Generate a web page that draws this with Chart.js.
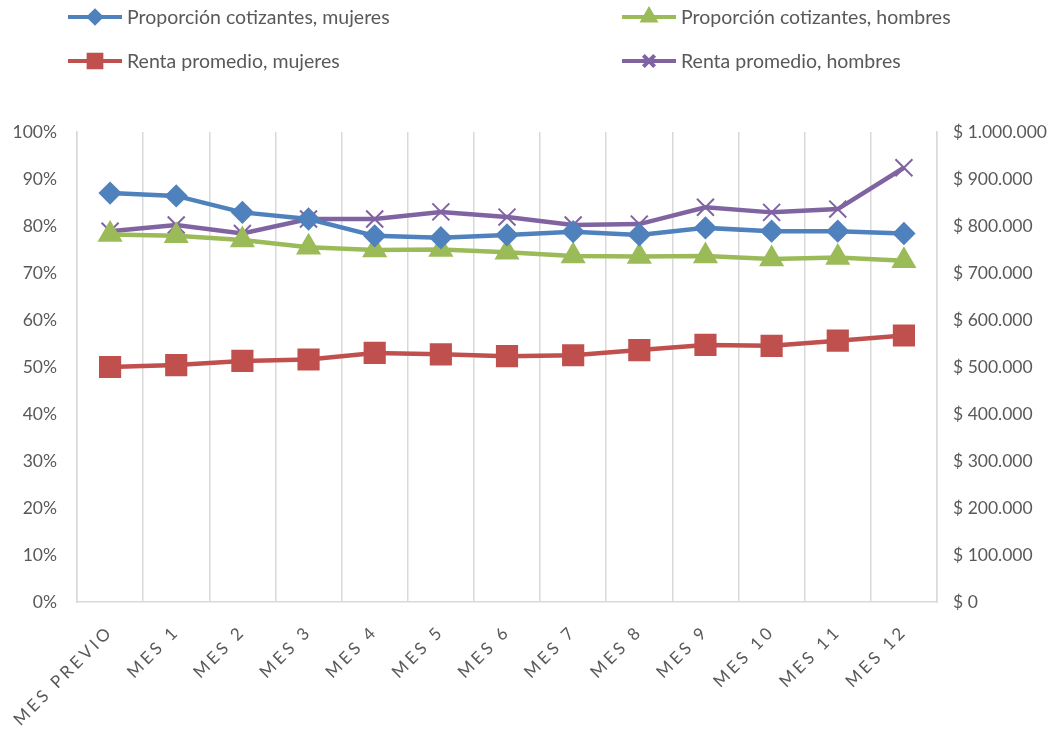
<!DOCTYPE html>
<html>
<head>
<meta charset="utf-8">
<script src="https://cdn.jsdelivr.net/npm/chart.js@4.4.1/dist/chart.umd.min.js"></script>
<style>
  html, body { margin: 0; padding: 0; background: #fff; }
  #wrap { width: 1062px; height: 736px; }
</style>
</head>
<body>
<div id="wrap"><canvas id="grafico" width="1062" height="736"></canvas></div>
<script>
// Datos
const meses = ['MES PREVIO', 'MES 1', 'MES 2', 'MES 3', 'MES 4', 'MES 5', 'MES 6',
  'MES 7', 'MES 8', 'MES 9', 'MES 10', 'MES 11', 'MES 12'];
const cotizMujeres = [87.0, 86.4, 82.9, 81.5, 77.9, 77.5, 78.1, 78.8, 78.1, 79.6, 78.9, 78.9, 78.4];
const cotizHombres = [78.2, 77.9, 77.0, 75.5, 74.9, 75.0, 74.4, 73.6, 73.5, 73.6, 73.0, 73.3, 72.6];
const rentaMujeres = [500000, 504000, 513000, 516000, 530000, 527000, 523000, 525000, 536000, 547000, 545000, 556000, 567000];
const rentaHombres = [789000, 802000, 784000, 815000, 815000, 830000, 819000, 802000, 804000, 840000, 829000, 836000, 924000];

const gris = '#595959';
const lineaGrid = '#D9D9D9';
const fuente = "Lato, 'Open Sans', sans-serif";

// Etiquetas del eje X giradas 45 grados y con letras espaciadas
const etiquetasX = {
  id: 'etiquetasX',
  afterDraw(chart) {
    const ctx = chart.ctx;
    const escala = chart.scales.x;
    const esp = 3.3;
    ctx.save();
    ctx.font = '17px ' + fuente;
    ctx.fillStyle = gris;
    ctx.textBaseline = 'middle';
    chart.data.labels.forEach((txt, i) => {
      const px = escala.getPixelForTick(i);
      const chars = [...txt];
      const anchos = chars.map(c => ctx.measureText(c).width);
      const total = anchos.reduce((a, b) => a + b, 0) + esp * (chars.length - 1);
      ctx.save();
      ctx.translate(px - 2, escala.top + 29);
      ctx.rotate(-Math.PI / 4);
      let x = -total;
      chars.forEach((c, k) => {
        ctx.fillText(c, x, 0);
        x += anchos[k] + esp;
      });
      ctx.restore();
    });
    ctx.restore();
  }
};

// Leyenda en dos columnas, dibujada a mano
const leyendaPlugin = {
  id: 'leyenda',
  afterDraw(chart) {
    const ctx = chart.ctx;
    const pos = [[68, 17], [622, 17], [68, 61], [622, 61]];
    chart.data.datasets.forEach((ds, k) => {
      const [x, y] = pos[k];
      ctx.save();
      ctx.strokeStyle = ds.borderColor;
      ctx.lineWidth = 4;
      ctx.beginPath();
      ctx.moveTo(x, y);
      ctx.lineTo(x + 54, y);
      ctx.stroke();
      ctx.fillStyle = ds.pointBackgroundColor;
      ctx.strokeStyle = ds.pointBorderColor;
      Chart.helpers.drawPoint(ctx, {
        pointStyle: ds.pointStyle,
        radius: ds.legendRadius,
        rotation: 0,
        borderWidth: ds.pointStyle === 'crossRot' ? 1.5 : 1
      }, x + 27, y);
      ctx.fillStyle = gris;
      ctx.font = '19.5px ' + fuente;
      ctx.textBaseline = 'middle';
      ctx.fillText(ds.label, x + 59, y + 1);
      ctx.restore();
    });
  }
};

new Chart(document.getElementById('grafico'), {
  type: 'line',
  data: {
    labels: meses,
    datasets: [
      {
        label: 'Proporción cotizantes, mujeres',
        data: cotizMujeres,
        yAxisID: 'y',
        borderColor: '#4F81BD',
        pointBackgroundColor: '#4F81BD',
        pointBorderColor: '#4F81BD',
        pointStyle: 'rectRot',
        pointRadius: 8.5,
        legendRadius: 6,
        borderWidth: 4.5
      },
      {
        label: 'Proporción cotizantes, hombres',
        data: cotizHombres,
        yAxisID: 'y',
        borderColor: '#9BBB59',
        pointBackgroundColor: '#9BBB59',
        pointBorderColor: '#9BBB59',
        pointStyle: 'triangle',
        pointRadius: 10,
        legendRadius: 7,
        borderWidth: 4.5
      },
      {
        label: 'Renta promedio, mujeres',
        data: rentaMujeres,
        yAxisID: 'y1',
        borderColor: '#C0504D',
        pointBackgroundColor: '#C0504D',
        pointBorderColor: '#C0504D',
        pointStyle: 'rect',
        pointRadius: 12.5,
        legendRadius: 9,
        borderWidth: 4.5
      },
      {
        label: 'Renta promedio, hombres',
        data: rentaHombres,
        yAxisID: 'y1',
        borderColor: '#8064A2',
        pointBackgroundColor: '#8064A2',
        pointBorderColor: '#8064A2',
        pointStyle: 'crossRot',
        pointRadius: 12,
        pointBorderWidth: 2,
        legendRadius: 8,
        borderWidth: 4.5
      }
    ]
  },
  options: {
    responsive: false,
    animation: false,
    layout: { padding: { top: 132, left: 0, right: 0, bottom: 0 } },
    plugins: {
      legend: { display: false },
      tooltip: { enabled: false }
    },
    scales: {
      x: {
        offset: true,
        grid: { offset: true, color: lineaGrid, lineWidth: 1.5, drawTicks: false },
        border: { color: lineaGrid, width: 1.5 },
        ticks: { display: false, autoSkip: false },
        afterFit: s => { s.height = 134; }
      },
      y: {
        position: 'left',
        min: 0,
        max: 100,
        grid: { display: false },
        border: { color: lineaGrid, width: 1.5 },
        ticks: {
          stepSize: 10,
          color: gris,
          font: { family: fuente, size: 17.5 },
          padding: 12,
          callback: v => v + '%'
        },
        afterFit: s => { s.width = 77; }
      },
      y1: {
        position: 'right',
        min: 0,
        max: 1000000,
        grid: { display: false },
        border: { color: lineaGrid, width: 1.5 },
        ticks: {
          stepSize: 100000,
          color: gris,
          font: { family: fuente, size: 17.5 },
          padding: 8,
          callback: v => '$ ' + v.toLocaleString('de-DE')
        },
        afterFit: s => { s.width = 125; }
      }
    }
  },
  plugins: [etiquetasX, leyendaPlugin]
});
</script>
</body>
</html>
